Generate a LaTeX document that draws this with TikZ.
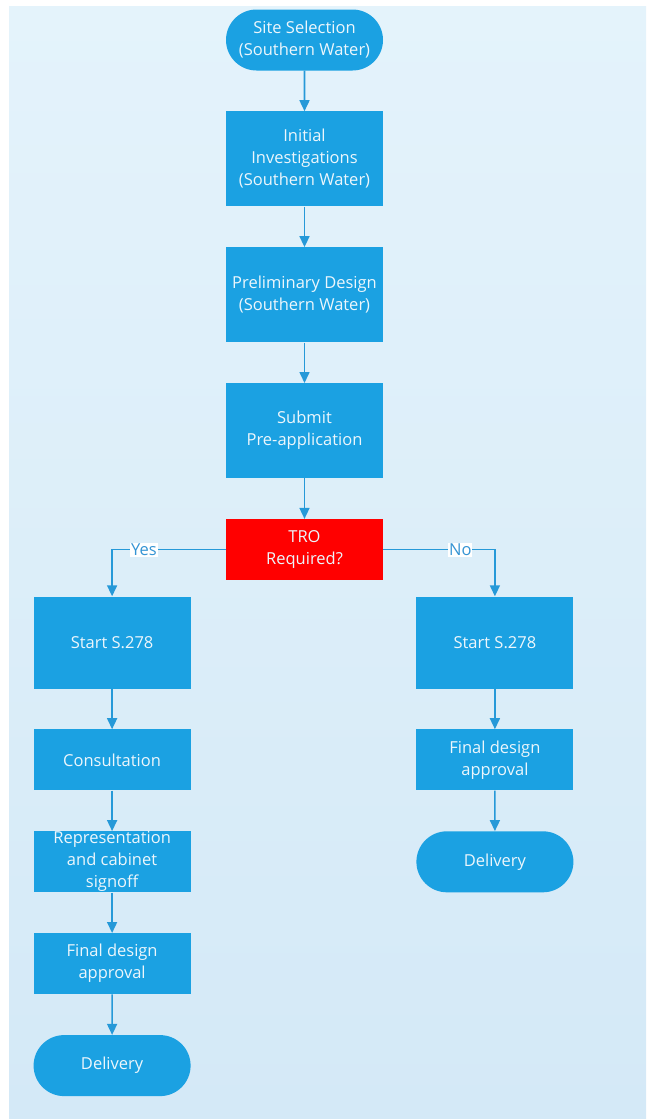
\documentclass[tikz,border=0pt]{standalone}
\usepackage{fontspec}
\setmainfont{Open Sans}
\usetikzlibrary{shapes.misc,arrows.meta,positioning}
\definecolor{boxclr}{RGB}{27,161,226}
\definecolor{lineclr}{RGB}{38,153,216}
\definecolor{decclr}{RGB}{255,0,0}
\definecolor{txtclr}{RGB}{236,246,252}
\definecolor{lblclr}{RGB}{52,148,212}
\definecolor{bgtop}{RGB}{228,243,251}
\definecolor{bgbot}{RGB}{212,233,247}
\tikzset{
  pblk/.style={rectangle,fill=boxclr,minimum width=157pt,minimum height=95pt,
    font=\fontsize{16.5}{22}\selectfont,align=center,text=txtclr,inner sep=0pt},
  sblk/.style={pblk,minimum height=61pt},
  dblk/.style={sblk,fill=decclr},
  tblk/.style={rounded rectangle,fill=boxclr,minimum width=157pt,
    minimum height=61pt,font=\fontsize{16.5}{22}\selectfont,align=center,
    text=txtclr,inner sep=0pt},
  arr/.style={-{Triangle[width=10pt,length=11pt]},line width=1.6pt,color=lineclr},
  lbl/.style={fill=white,inner sep=1pt,font=\fontsize{16.5}{18}\selectfont,
    text=lblclr},
}

\begin{document}
\begin{tikzpicture}[x=1pt,y=-1pt,node distance=40.5pt]

  \useasboundingbox (0,0) rectangle (646,1119);
  \fill[top color=bgtop,bottom color=bgbot] (9,6) rectangle (646,1119);

  % main column
  \node[tblk] (site) at (304.5,40) {Site Selection\\(Southern Water)};
  \node[pblk,below=of site] (init) {Initial\\Investigations\\(Southern Water)};
  \node[pblk,below=of init] (prel) {Preliminary Design\\(Southern Water)};
  \node[pblk,below=of prel] (subm) {Submit\\Pre-application};
  \node[dblk,below=of subm] (tro)  {TRO\\Required?};

  % yes branch
  \node[pblk,minimum height=92pt,below left=16pt and 35pt of tro] (lstart) {Start S.278};
  \node[sblk,below=of lstart] (lcons) {Consultation};
  \node[sblk,below=of lcons]  (lrep)  {Representation\\and cabinet\\signoff};
  \node[sblk,below=of lrep]   (lfin)  {Final design\\approval};
  \node[tblk,below=of lfin]   (ldel)  {Delivery};

  % no branch
  \node[pblk,minimum height=92pt,below right=16pt and 33pt of tro] (rstart) {Start S.278};
  \node[sblk,below=of rstart] (rfin) {Final design\\approval};
  \node[tblk,below=of rfin]   (rdel) {Delivery};

  \foreach \a/\b in {site/init,init/prel,prel/subm,subm/tro,
    lstart/lcons,lcons/lrep,lrep/lfin,lfin/ldel,
    rstart/rfin,rfin/rdel}{
    \draw[arr] (\a)--(\b);
  }
  \draw[arr] (tro) -| node[lbl,pos=0.36]{Yes} (lstart);
  \draw[arr] (tro) -| node[lbl,pos=0.345]{No} (rstart);

\end{tikzpicture}
\end{document}
